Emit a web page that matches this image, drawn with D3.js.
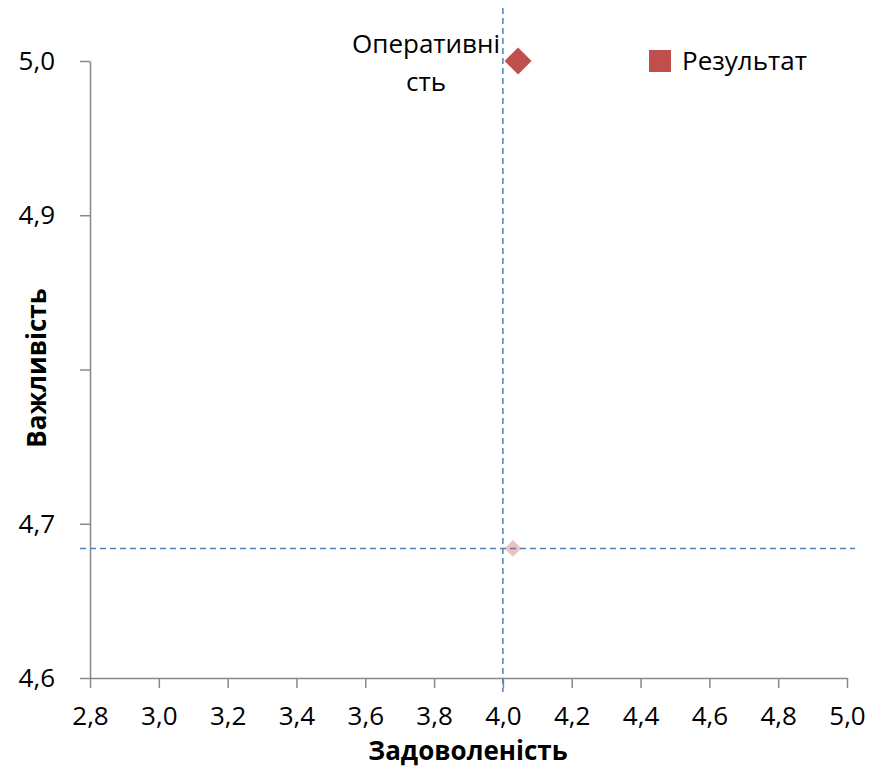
<!DOCTYPE html>
<html>
<head>
<meta charset="utf-8">
<script src="https://cdn.jsdelivr.net/npm/d3@7"></script>
<style>
  body { margin: 0; background: #fff; }
  text { font-family: "Open Sans", sans-serif; }
</style>
</head>
<body>
<div id="chart"></div>
<script>
// Дані
var points = [{ name: "Оперативність", label: ["Оперативні", "сть"], x: 4.044, y: 5.0 }]
var average = { x: 4.029, y: 4.684 }
var refLines = { x: 4.0, y: 4.684 }
var xTicks = [2.8, 3.0, 3.2, 3.4, 3.6, 3.8, 4.0, 4.2, 4.4, 4.6, 4.8, 5.0]
var yTicks = [4.6, 4.7, 4.8, 4.9, 5.0]
var yTickLabels = ["4,6", "4,7", "", "4,9", "5,0"]
var seriesName = "Результат"
var xTitle = "Задоволеність"
var yTitle = "Важливість"

var width = 883, height = 767
var svg = d3.select("#chart").append("svg")
  .attr("width", width).attr("height", height)

var x = d3.scaleLinear().domain([2.8, 5.0]).range([90, 847])
var y = d3.scaleLinear().domain([4.6, 5.0]).range([678, 61])

var axisColor = "#898989"

// Вісь Y
var yAxis = svg.append("g")
  .attr("transform", "translate(" + x(2.8) + ",0)")
  .call(d3.axisLeft(y).tickValues(yTicks)
    .tickFormat(function(d, i) { return yTickLabels[i] })
    .tickSize(10).tickSizeOuter(0).tickPadding(25))
yAxis.select(".domain").attr("stroke", axisColor).attr("stroke-width", 1.5)
yAxis.selectAll(".tick line").attr("stroke", axisColor).attr("stroke-width", 1.5)
yAxis.selectAll(".tick text").style("font-size", "26px").attr("fill", "#000")
  .attr("font-family", "Open Sans")

// Вісь X
var xAxis = svg.append("g")
  .attr("transform", "translate(0," + y(4.6) + ")")
  .call(d3.axisBottom(x).tickValues(xTicks)
    .tickFormat(function(d) { return d3.format(".1f")(d).replace(".", ",") })
    .tickSize(10).tickSizeOuter(0).tickPadding(19))
xAxis.select(".domain").attr("stroke", axisColor).attr("stroke-width", 1.5)
xAxis.selectAll(".tick line").attr("stroke", axisColor).attr("stroke-width", 1.5)
xAxis.selectAll(".tick text").style("font-size", "26px").attr("fill", "#000")
  .attr("font-family", "Open Sans")

// білий прямокутник, що обрізає підписи осі X
svg.append("rect")
  .attr("x", 0).attr("y", 731).attr("width", width).attr("height", height - 731)
  .attr("fill", "#fff")

// Пунктирні лінії середніх
svg.append("line")
  .attr("x1", x(refLines.x)).attr("x2", x(refLines.x))
  .attr("y1", 8).attr("y2", 692)
  .attr("stroke", "#4F81BD").attr("stroke-width", 1.5)
  .attr("stroke-dasharray", "6,4")
svg.append("line")
  .attr("x1", 80).attr("x2", 855)
  .attr("y1", y(refLines.y)).attr("y2", y(refLines.y))
  .attr("stroke", "#4F81BD").attr("stroke-width", 1.5)
  .attr("stroke-dasharray", "6,4")

// Середня точка
svg.append("path")
  .attr("d", d3.symbol().type(d3.symbolDiamond2).size(180)())
  .attr("transform", "translate(" + x(average.x) + "," + y(average.y) + ")")
  .attr("fill", "#C0504D").attr("fill-opacity", 0.35)

// Точки
svg.selectAll(".pt")
  .data(points)
  .join("path")
    .attr("class", "pt")
    .attr("d", d3.symbol().type(d3.symbolDiamond2).size(465)())
    .attr("transform", function(d) { return "translate(" + x(d.x) + "," + y(d.y) + ")" })
    .attr("fill", "#C0504D")

// Підписи точок
points.forEach(function(d) {
  var t = svg.append("text")
    .attr("text-anchor", "middle")
    .style("font-size", "26px")
  d.label.forEach(function(line, i) {
    t.append("tspan")
      .attr("x", x(d.x) - 92)
      .attr("y", y(d.y) - 8 + i * 38)
      .text(line)
  })
})

// Легенда
svg.append("rect")
  .attr("x", 649).attr("y", 50).attr("width", 22).attr("height", 22)
  .attr("fill", "#C0504D")
svg.append("text")
  .attr("x", 682).attr("y", 70)
  .style("font-size", "26px")
  .text(seriesName)

// Назви осей
svg.append("text")
  .attr("x", 468).attr("y", 760)
  .attr("text-anchor", "middle")
  .style("font-size", "26px").style("font-weight", "bold")
  .text(xTitle)
svg.append("text")
  .attr("transform", "translate(46,368) rotate(-90)")
  .attr("text-anchor", "middle")
  .style("font-size", "26px").style("font-weight", "bold")
  .text(yTitle)
</script>
</body>
</html>
